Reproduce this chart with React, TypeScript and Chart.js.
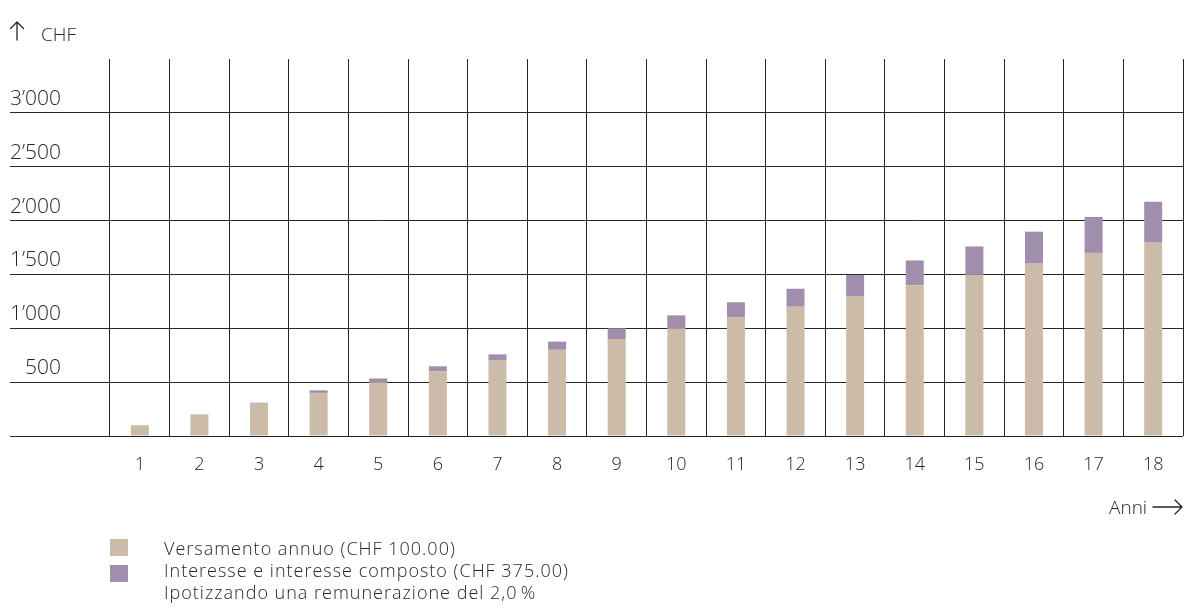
import React, { useEffect, useRef } from "react";
import { Chart, registerables } from "chart.js";

Chart.register(...registerables);

const years = ["1", "2", "3", "4", "5", "6", "7", "8", "9", "10", "11", "12", "13", "14", "15", "16", "17", "18"];
const deposits = [100, 200, 300, 400, 500, 600, 700, 800, 900, 1000, 1100, 1200, 1300, 1400, 1500, 1600, 1700, 1800];
const interest = [0, 2, 9, 24, 34, 47, 58, 76, 100, 120, 142, 167, 195, 230, 260, 297, 334, 375];
const yMin = 0;
const yMax = 3500;
const yStep = 500;
const legendLabels = [
  "Versamento annuo (CHF 100.00)",
  "Interesse e interesse composto (CHF 375.00)",
];
const footnote = "Ipotizzando una remunerazione del 2,0\u202F%";
const yTitle = "CHF";
const xTitle = "Anni";

const beige = "#CDBBAA";
const purple = "#A08EAC";
const ink = "#262626";
const gridColor = "#262626";
const fontFamily = "'Open Sans', 'Noto Sans', sans-serif";

function fmt(v: number): string {
  return String(v).replace(/\B(?=(\d{3})+(?!\d))/g, "\u2019");
}

export default function App() {
  const ref = useRef<HTMLCanvasElement | null>(null);

  useEffect(() => {
    if (!ref.current) return;
    const chart = new Chart(ref.current, {
      type: "bar",
      data: {
        labels: years,
        datasets: [
          {
            label: legendLabels[0],
            data: deposits,
            backgroundColor: beige,
            borderWidth: 0,
            categoryPercentage: 1,
            barPercentage: 0.302,
          },
          {
            label: legendLabels[1],
            data: interest,
            backgroundColor: purple,
            borderWidth: 0,
            categoryPercentage: 1,
            barPercentage: 0.302,
          },
        ],
      },
      options: {
        animation: false,
        responsive: false,
        devicePixelRatio: 1,
        layout: { padding: { left: 10, top: 59, right: 1, bottom: 0 } },
        plugins: { legend: { display: false }, tooltip: { enabled: false } },
        scales: {
          x: {
            stacked: true,
            offset: true,
            grid: { offset: true, drawTicks: false, color: gridColor, lineWidth: 1 },
            border: { display: false },
            ticks: {
              color: ink,
              font: { family: fontFamily, size: 18, weight: "300" },
              padding: 18,
              maxRotation: 0,
            },
            afterFit: (s: any) => {
              s.height = 44;
            },
          },
          y: {
            stacked: true,
            min: yMin,
            max: yMax,
            grid: {
              drawTicks: true,
              tickLength: 100,
              lineWidth: 1,
              color: (c: any) => (c.tick && c.tick.value === yMax ? "rgba(0,0,0,0)" : gridColor),
            },
            border: { display: false },
            ticks: {
              stepSize: yStep,
              color: ink,
              font: { family: fontFamily, size: 21, weight: "300" },
              padding: -51,
              crossAlign: "near",
              labelOffset: -14,
              callback: (v: any) => (v === yMin || v === yMax ? "" : fmt(Number(v))),
            },
            afterFit: (s: any) => {
              s.width = 100;
            },
          },
        },
      },
    } as any);
    return () => chart.destroy();
  }, []);

  const text: React.CSSProperties = {
    position: "absolute",
    fontFamily,
    fontWeight: 300,
    color: ink,
    whiteSpace: "nowrap",
  };
  const legendText: React.CSSProperties = { ...text, left: 164, fontSize: 18, lineHeight: "22px", letterSpacing: "1px" };

  return (
    <div style={{ position: "fixed", left: 0, top: 0, width: 1184, height: 612, background: "#fff", overflow: "hidden" }}>
      <canvas ref={ref} width={1184} height={480} style={{ position: "absolute", left: 0, top: 0, width: 1184, height: 480 }} />
      <svg width={1184} height={612} style={{ position: "absolute", left: 0, top: 0, pointerEvents: "none" }}>
        <g fill="none" stroke={ink} strokeWidth={1.3} strokeLinecap="round" strokeLinejoin="round">
          <path d="M17 22 L17 40 M10.5 28.5 L17 22 L23.5 28.5" />
          <path d="M1153 507 L1182 507 M1175 500 L1182 507 L1175 514" />
        </g>
      </svg>
      <div style={{ ...text, left: 41, top: 22, fontSize: 19, lineHeight: "24px" }}>{yTitle}</div>
      <div style={{ ...text, left: 1109, top: 495, fontSize: 19, lineHeight: "24px" }}>{xTitle}</div>
      <div style={{ position: "absolute", left: 110, top: 539, width: 18, height: 17, background: beige }} />
      <div style={{ position: "absolute", left: 110, top: 565, width: 18, height: 17, background: purple }} />
      <div style={{ ...legendText, top: 537 }}>{legendLabels[0]}</div>
      <div style={{ ...legendText, top: 559 }}>{legendLabels[1]}</div>
      <div style={{ ...legendText, top: 581 }}>{footnote}</div>
    </div>
  );
}
